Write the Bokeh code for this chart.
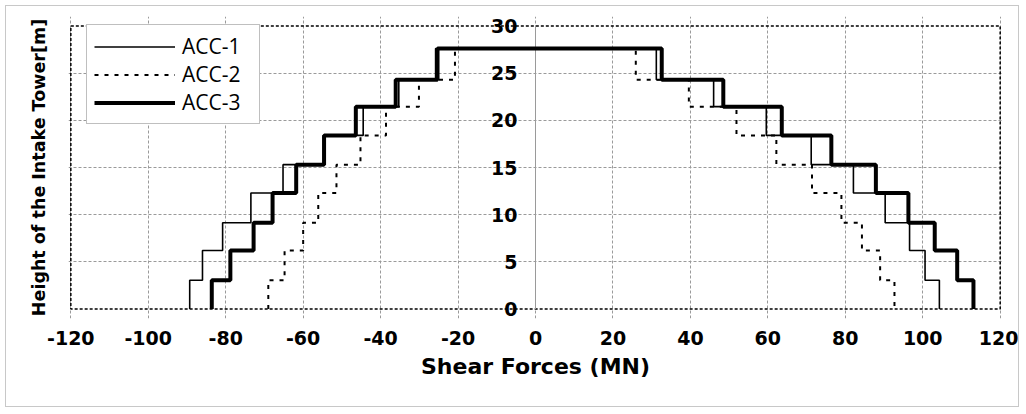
from bokeh.plotting import figure
from bokeh.models import (Range1d, FixedTicker, Legend, LegendItem,
                          LabelSet, ColumnDataSource)
from bokeh.core.properties import value
from bokeh.embed import file_html
from bokeh.resources import INLINE

# Storey boundaries of the intake tower (m)
levels = [0, 3.05, 6.2, 9.15, 12.3, 15.3, 18.4, 21.45, 24.3, 27.6]

# Storey shear forces (MN), bottom storey first; negative side / positive side
acc1_neg = [-89.3, -86.0, -80.8, -73.5, -65.2, -54.8, -44.5, -35.3, -25.8]
acc1_pos = [104.3, 100.6, 96.6, 90.3, 82.1, 71.2, 59.6, 46.0, 31.2]
acc2_neg = [-69.0, -64.8, -60.0, -56.1, -51.4, -45.2, -38.6, -30.1, -20.8]
acc2_pos = [92.7, 89.0, 84.3, 79.0, 71.4, 62.2, 51.9, 39.6, 25.9]
acc3_neg = [-83.6, -78.8, -72.8, -67.9, -61.8, -54.6, -46.4, -36.1, -25.3]
acc3_pos = [113.1, 108.9, 103.1, 96.3, 87.9, 76.4, 63.6, 48.5, 32.6]

x_ticks = list(range(-120, 121, 20))
y_ticks = [0, 5, 10, 15, 20, 25, 30]

x_lo, x_hi = x_ticks[0], x_ticks[-1]
y_lo, y_hi = y_ticks[0], y_ticks[-1]


def envelope(neg, pos):
    """Step outline: up the negative side, across the top, down the positive side."""
    xs, ys = [], []
    for i, v in enumerate(neg):
        xs += [v, v]
        ys += [levels[i], levels[i + 1]]
    for i in range(len(pos) - 1, -1, -1):
        xs += [pos[i], pos[i]]
        ys += [levels[i + 1], levels[i]]
    return ColumnDataSource(dict(x=xs, y=ys))


# a little slack around the axis box so the value labels at 0 and 30 are not cut
p = figure(width=1014, height=402, output_backend="svg", toolbar_location=None,
           x_range=Range1d(x_lo - 0.6, x_hi + 0.6), y_range=Range1d(y_lo - 1, y_hi + 1),
           min_border_left=62, min_border_right=18,
           min_border_top=10, min_border_bottom=90,
           styles={"margin": "5px", "border": "1px solid #c8c8c8"})
p.background_fill_color = "white"
p.border_fill_color = "white"
p.outline_line_color = None

# grid
p.xgrid.ticker = FixedTicker(ticks=x_ticks)
p.ygrid.ticker = FixedTicker(ticks=[5, 10, 15, 20, 25])
p.xgrid.bounds = (y_lo, y_hi)
p.ygrid.bounds = (x_lo, x_hi)
for g in (p.xgrid, p.ygrid):
    g.grid_line_color = "#9a9a9a"
    g.grid_line_dash = "3 2"
    g.grid_line_width = 1

# x axis
xa = p.xaxis[0]
xa.ticker = FixedTicker(ticks=x_ticks)
xa.major_label_overrides = {t: str(t) for t in x_ticks}
xa.axis_line_color = None
xa.major_tick_line_color = None
xa.minor_tick_line_color = None
xa.major_tick_out = 0
xa.major_tick_in = 0
xa.major_label_standoff = 12
xa.major_label_text_font = "DejaVu Sans"
xa.major_label_text_font_style = "bold"
xa.major_label_text_font_size = "19px"
xa.major_label_text_color = "black"
xa.axis_label = "Shear Forces (MN)"
xa.axis_label_text_font = "DejaVu Sans"
xa.axis_label_text_font_style = "bold"
xa.axis_label_text_font_size = "22px"
xa.axis_label_text_color = "black"
xa.axis_label_standoff = 6

# y axis: only the title sits at the left; the value labels run along x = 0
ya = p.yaxis[0]
ya.ticker = FixedTicker(ticks=[])
ya.axis_line_color = None
ya.major_tick_line_color = None
ya.minor_tick_line_color = None
ya.axis_label = "Height of the Intake Tower[m]"
ya.axis_label_text_font = "DejaVu Sans"
ya.axis_label_text_font_style = "bold"
ya.axis_label_text_font_size = "17.5px"
ya.axis_label_text_color = "black"
ya.axis_label_standoff = 20

# dotted box of the plot area and the solid vertical axis at zero
p.quad(left=[x_lo], right=[x_hi], bottom=[y_lo], top=[y_hi], fill_color=None,
       line_color="black", line_width=1.5, line_dash="3 2")
p.segment(x0=[0], y0=[y_lo], x1=[0], y1=[y_hi], line_color="#9a9a9a", line_width=1)

ylab_src = ColumnDataSource(dict(x=[0] * len(y_ticks), y=y_ticks,
                                 t=[str(t) for t in y_ticks]))
p.add_layout(LabelSet(x="x", y="y", text="t", source=ylab_src,
                      x_offset=-18, text_align="right", text_baseline="middle",
                      text_font=value("DejaVu Sans"), text_font_style="bold",
                      text_font_size="19px", text_color="black"))

# shear envelopes
r2 = p.line("x", "y", source=envelope(acc2_neg, acc2_pos), line_color="black",
            line_width=2, line_dash="4 6")
r1 = p.line("x", "y", source=envelope(acc1_neg, acc1_pos), line_color="black",
            line_width=1.6)
r3 = p.line("x", "y", source=envelope(acc3_neg, acc3_pos), line_color="black",
            line_width=4)

legend = Legend(items=[LegendItem(label="ACC-1", renderers=[r1]),
                       LegendItem(label="ACC-2", renderers=[r2]),
                       LegendItem(label="ACC-3", renderers=[r3])],
                location=(18, 194))
legend.label_text_font = "Open Sans"
legend.label_text_font_size = "21px"
legend.label_text_color = "black"
legend.glyph_width = 81
legend.glyph_height = 27
legend.label_height = 27
legend.label_width = 70
legend.label_standoff = 7
legend.spacing = 0
legend.padding = 7
legend.margin = 0
legend.border_line_color = "#808080"
legend.border_line_width = 1.5
legend.background_fill_color = "white"
legend.background_fill_alpha = 1
p.add_layout(legend)

open("out.html", "w").write(file_html(p, INLINE))
